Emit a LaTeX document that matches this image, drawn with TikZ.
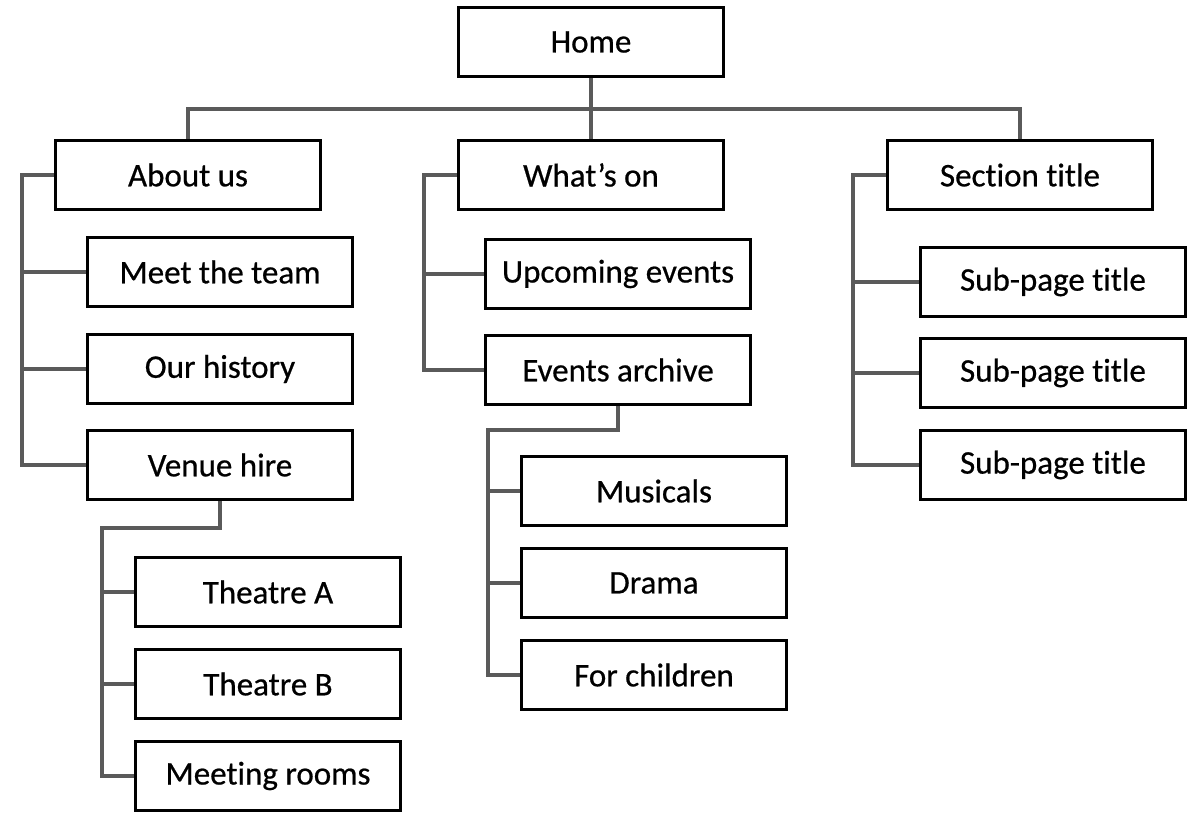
\documentclass[tikz,border=0pt]{standalone}
\usepackage{fontspec}
\setmainfont[Ligatures=NoCommon,FakeBold=0.6]{Carlito}
\definecolor{conn}{RGB}{90,90,90}
\begin{document}
\begin{tikzpicture}[x=1pt,y=-1pt,
  pagebox/.style={draw=black, line width=3.5pt, fill=white, rectangle,
    minimum width=265pt, minimum height=69pt, inner sep=0pt,
    font=\fontsize{33}{40}\selectfont},
  link/.style={draw=conn, line width=3.2pt}]
\useasboundingbox (0,0) rectangle (1200,829);
\coordinate (bus) at (591,109);
\coordinate (aL) at (22,0);
\coordinate (vL) at (102,528);
\coordinate (wL) at (424,0);
\coordinate (eL) at (488,430);
\coordinate (sL) at (853,0);
% nodes
\node[pagebox] (home) at (591,42) {Home};
\node[pagebox] (about) at (188,175) {About us};
\node[pagebox] (whats) at (591,175) {What’s on};
\node[pagebox] (section) at (1020,175) {Section title};
\node[pagebox] (meet) at (220,272) {Meet the team};
\node[pagebox] (history) at (220,369) {Our history};
\node[pagebox] (venue) at (220,465) {Venue hire};
\node[pagebox] (theatreA) at (268,592) {Theatre A};
\node[pagebox] (theatreB) at (268,684) {Theatre B};
\node[pagebox] (meeting) at (268,776) {Meeting rooms};
\node[pagebox] (upcoming) at (618,274) {Upcoming events};
\node[pagebox] (archive) at (618,370) {Events archive};
\node[pagebox] (musicals) at (654,491) {Musicals};
\node[pagebox] (drama) at (654,583) {Drama};
\node[pagebox] (children) at (654,675) {For children};
\node[pagebox] (sub1) at (1053,282) {Sub-page title};
\node[pagebox] (sub2) at (1053,373) {Sub-page title};
\node[pagebox] (sub3) at (1053,465) {Sub-page title};
% level 1
\draw[link] (home.south) -- (whats.north);
\draw[link] (about.north) -- (about.north |- bus) -- (section.north |- bus) -- (section.north);
% about us
\draw[link] (about.west) -- (aL |- about.west) -- (aL |- venue.west) -- (venue.west);
\draw[link] (aL |- meet.west) -- (meet.west);
\draw[link] (aL |- history.west) -- (history.west);
% venue hire
\draw[link] (venue.south) -- (venue.south |- vL) -- (vL) -- (vL |- meeting.west) -- (meeting.west);
\draw[link] (vL |- theatreA.west) -- (theatreA.west);
\draw[link] (vL |- theatreB.west) -- (theatreB.west);
% what's on
\draw[link] (whats.west) -- (wL |- whats.west) -- (wL |- archive.west) -- (archive.west);
\draw[link] (wL |- upcoming.west) -- (upcoming.west);
% events archive
\draw[link] (archive.south) -- (archive.south |- eL) -- (eL) -- (eL |- children.west) -- (children.west);
\draw[link] (eL |- musicals.west) -- (musicals.west);
\draw[link] (eL |- drama.west) -- (drama.west);
% section
\draw[link] (section.west) -- (sL |- section.west) -- (sL |- sub3.west) -- (sub3.west);
\draw[link] (sL |- sub1.west) -- (sub1.west);
\draw[link] (sL |- sub2.west) -- (sub2.west);
\end{tikzpicture}
\end{document}
